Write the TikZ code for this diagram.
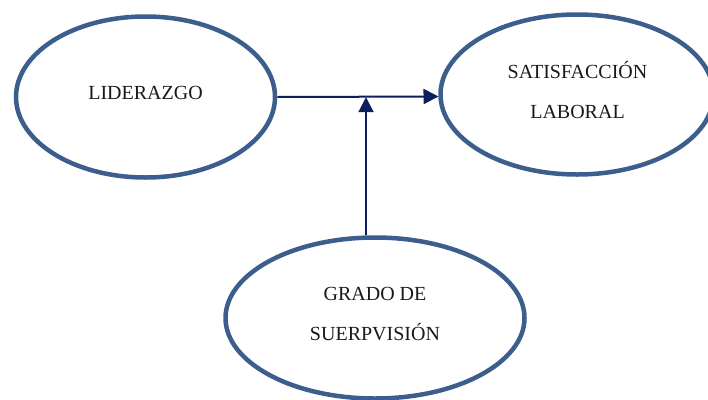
\documentclass[tikz,border=0pt]{standalone}
\usepackage{fontspec}
\setmainfont{Liberation Serif}
\usetikzlibrary{shapes.geometric,arrows.meta}
\definecolor{ellblue}{HTML}{3B5E8C}
\definecolor{navy}{HTML}{0B1F5E}
\begin{document}
\begin{tikzpicture}[x=1pt,y=-1pt,
  oval/.style={ellipse, draw=ellblue, line width=4.5pt, inner sep=0pt, fill=white},
  txt/.style={font=\fontsize{20pt}{40pt}\selectfont, align=center, text=black!90},
  conn/.style={draw=navy, line width=2pt, -{Triangle[length=15pt,width=15pt]}}]
\useasboundingbox (0,0) rectangle (708,399);
\clip (0,0) rectangle (708,399);
\node[oval, minimum width=259pt, minimum height=161pt] (L) at (145.5,97) {};
\node[txt] (Lt) at (145.5,93) {LIDERAZGO};
\node[oval, minimum width=273pt, minimum height=160pt] (S) at (577,94.5) {};
\node[txt] (St) at (577.5,90) {SATISFACCIÓN\\LABORAL};
\node[oval, minimum width=299pt, minimum height=161pt] (G) at (375,318) {};
\node[txt] (Gt) at (375,314) {GRADO DE\\SUERPVISIÓN};
\coordinate (j) at (366,97.2);
\coordinate (k) at (438.5,96.5);
\draw[conn] (L.east) -- (k);
\draw[conn] (j |- G.north) -- (j);
\end{tikzpicture}
\end{document}
